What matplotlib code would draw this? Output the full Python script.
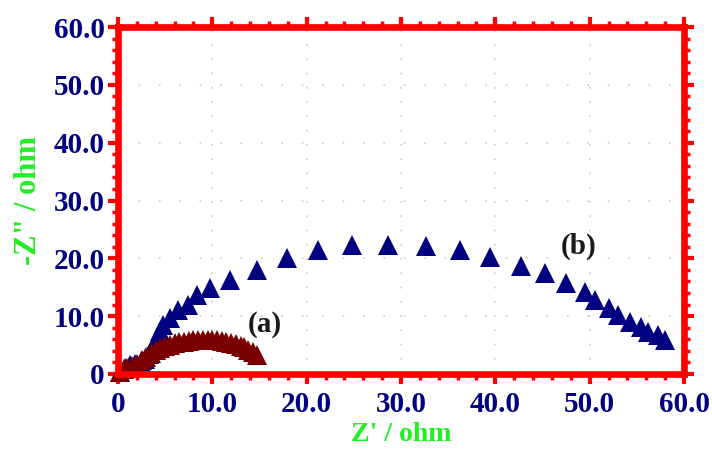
import matplotlib
matplotlib.use('Agg')
import matplotlib.pyplot as plt
from matplotlib.ticker import MultipleLocator, FuncFormatter

# sample (a): smaller arc
za_re = [0.2, 0.6, 1.0, 1.5, 2.0, 2.5, 3.0, 3.5, 4.0, 4.5, 5.0, 5.5, 6.0, 6.5,
         7.0, 7.5, 8.0, 8.5, 9.0, 9.5, 10.0, 10.5, 11.0, 11.5, 12.0, 12.5,
         13.0, 13.4, 13.8, 14.3, 14.7]
za_im = [0.3, 0.8, 1.1, 1.3, 1.8, 2.4, 3.0, 3.6, 4.1, 4.5, 4.8, 5.1, 5.3, 5.45,
         5.6, 5.7, 5.8, 5.85, 5.9, 5.9, 5.85, 5.8, 5.7, 5.55, 5.4, 5.2,
         4.9, 4.6, 4.2, 3.8, 3.3]

# sample (b): larger arc
zb_re = [0.2, 0.7, 1.3, 1.8, 2.4, 2.9, 3.3, 3.6, 3.9, 4.2, 4.5, 4.8, 5.5, 6.4,
         7.4, 8.4, 9.8, 11.9, 14.7, 17.9, 21.2, 24.8, 28.6, 32.6, 36.3, 39.4,
         42.7, 45.3, 47.5, 49.5, 50.6, 52.0, 53.0, 54.3, 55.4, 56.2, 57.2, 58.0]
zb_im = [0.3, 1.0, 1.5, 1.7, 2.0, 2.6, 3.5, 4.4, 5.4, 6.4, 7.4, 8.4, 9.7, 11.1,
         11.9, 13.7, 14.9, 16.3, 18.0, 20.1, 21.5, 22.3, 22.3, 22.1, 21.5, 20.2,
         18.6, 17.5, 15.7, 14.2, 12.8, 11.4, 10.2, 9.0, 8.1, 7.3, 6.7, 5.9]

NAVY  = '#000080'
BROWN = '#7a0000'
RED   = '#ff0000'
GREEN = '#22ee22'

plt.rcParams['font.family'] = ['Liberation Serif', 'DejaVu Serif']
plt.rcParams['font.weight'] = 'bold'

fig = plt.figure(figsize=(7.12, 4.5), dpi=100)
ax = fig.add_axes([118/712, 76/450, 566/712, 347/450])

ax.plot(zb_re, zb_im, '^', color=NAVY, ms=14, mew=0, clip_on=False, zorder=3)
ax.plot(za_re, za_im, '^', color=BROWN, ms=14, mew=0, clip_on=False, zorder=4)

ax.set_xlim(0, 60)
ax.set_ylim(0, 60)
ax.xaxis.set_major_locator(MultipleLocator(10))
ax.yaxis.set_major_locator(MultipleLocator(10))
ax.xaxis.set_minor_locator(MultipleLocator(2))
ax.yaxis.set_minor_locator(MultipleLocator(2))
fmt = FuncFormatter(lambda v, p: '0' if v == 0 else f'{v:.1f}')
ax.xaxis.set_major_formatter(fmt)
ax.yaxis.set_major_formatter(fmt)

ax.tick_params(which='both', direction='out', color=RED, top=True, right=True,
               labeltop=False, labelright=False)
ax.tick_params(which='major', length=7, width=3)
ax.tick_params(which='minor', length=4.5, width=2.5)
ax.tick_params(axis='both', labelsize=21, labelcolor=NAVY)
ax.tick_params(axis='x', pad=5)
ax.tick_params(axis='y', pad=2.5)
for lab in ax.get_xticklabels() + ax.get_yticklabels():
    lab.set_fontweight('bold')

for s in ax.spines.values():
    s.set_color(RED)
    s.set_linewidth(4.8)
    s.set_zorder(5)

# dotted grid, dots at the minor tick spacing
ax.xaxis.grid(True, color='#d6d6bc', lw=1.3, linestyle=(0, (1, 6.9)))
ax.yaxis.grid(True, color='#d6d6bc', lw=1.3, linestyle=(0, (1, 10.3)))
ax.set_axisbelow(True)

ax.set_xlabel("Z' / ohm", color=GREEN, fontsize=20, fontweight='bold', labelpad=3)
ax.set_ylabel('-Z" / ohm', color=GREEN, fontsize=22, fontweight='bold', labelpad=8)

ax.text(15.6, 8.5, '(a)', fontsize=21, fontweight='bold', color='#1a1a1a',
        ha='center', va='center')
ax.text(48.8, 22.0, '(b)', fontsize=21, fontweight='bold', color='#1a1a1a',
        ha='center', va='center')

fig.savefig('out.png', dpi=100)
